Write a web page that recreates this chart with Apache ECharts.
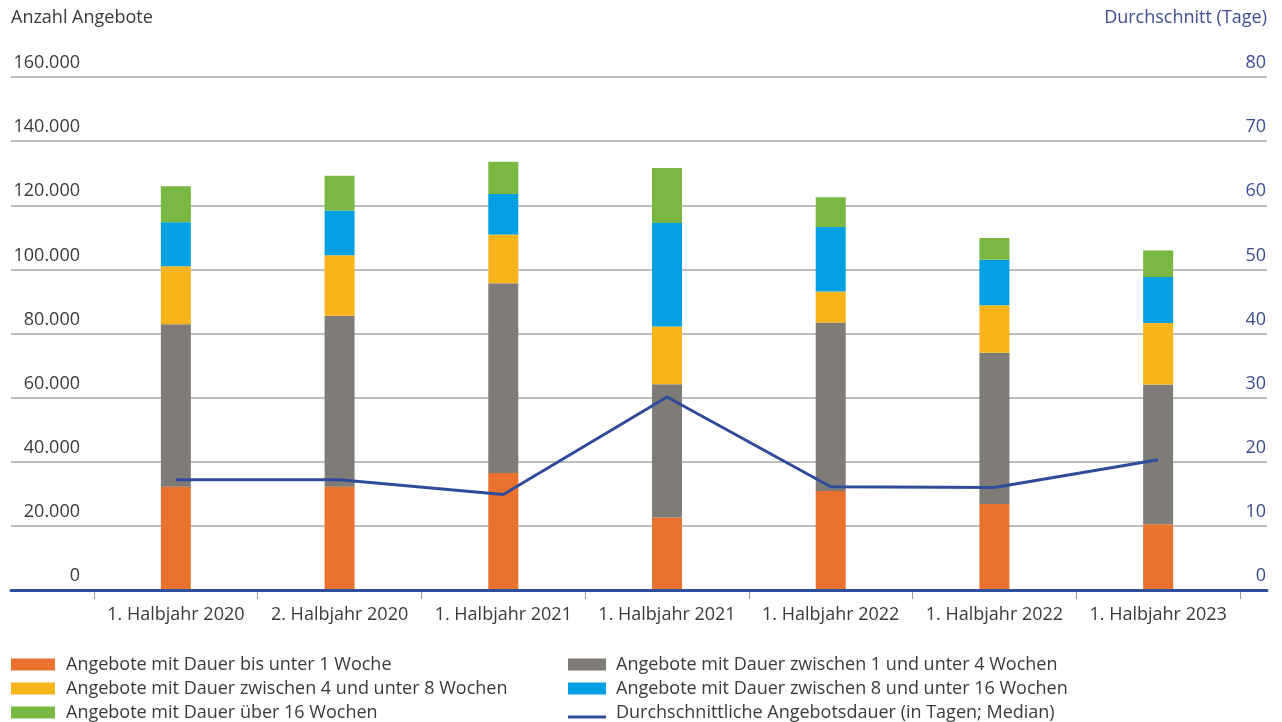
<!DOCTYPE html>
<html>
<head>
<meta charset="utf-8">
<script src="https://cdn.jsdelivr.net/npm/echarts@6/dist/echarts.min.js"></script>
<style>
  html, body { margin: 0; padding: 0; background: #ffffff; }
  #chart { width: 1282px; height: 722px; }
</style>
</head>
<body>
<div id="chart"></div>
<script>
// ---- data ----
const categories = ['1. Halbjahr 2020', '2. Halbjahr 2020', '1. Halbjahr 2021', '1. Halbjahr 2021', '1. Halbjahr 2022', '1. Halbjahr 2022', '1. Halbjahr 2023'];
const bisUnter1Woche   = [32200, 32200, 36500, 22600, 30900, 26800, 20500];
const zwischen1und4    = [50700, 53300, 59200, 41600, 52500, 47200, 43600];
const zwischen4und8    = [18100, 18900, 15200, 18000,  9700, 14800, 19200];
const zwischen8und16   = [13700, 14000, 12600, 32300, 20100, 14200, 14300];
const ueber16Wochen    = [11200, 10800, 10100, 17100,  9300,  6800,  8300];
const medianDauerTage  = [17.2, 17.2, 14.9, 30.1, 16.1, 16.0, 20.3];

const seriesNames = [
  'Angebote mit Dauer bis unter 1 Woche',
  'Angebote mit Dauer zwischen 1 und unter 4 Wochen',
  'Angebote mit Dauer zwischen 4 und unter 8 Wochen',
  'Angebote mit Dauer zwischen 8 und unter 16 Wochen',
  'Angebote mit Dauer über 16 Wochen',
  'Durchschnittliche Angebotsdauer (in Tagen; Median)'
];
const leftTicks = { min: 0, max: 160000, interval: 20000 };
const rightTicks = { min: 0, max: 80, interval: 10 };

// ---- styles ----
const FONT = 'Open Sans';
const TEXT = '#3a3a3a';
const BLUE_TEXT = '#3d4d8f';
const colors = ['#e9722f', '#7f7b77', '#f8b51b', '#00a0e3', '#78b843', '#2f4c9b'];
const GRID_TOP = 77, GRID_BOTTOM = 132;

function deFormat(v) {
  return String(v).replace(/\B(?=(\d{3})+(?!\d))/g, '.');
}

const barData = [bisUnter1Woche, zwischen1und4, zwischen4und8, zwischen8und16, ueber16Wochen];

const series = barData.map((arr, i) => ({
  name: seriesNames[i],
  type: 'bar',
  stack: 'angebote',
  xAxisIndex: 0,
  yAxisIndex: 0,
  barWidth: 30,
  itemStyle: { color: colors[i] },
  data: arr,
  z: 2
}));
series.push({
  name: seriesNames[5],
  type: 'line',
  xAxisIndex: 0,
  yAxisIndex: 1,
  symbol: 'none',
  lineStyle: { color: colors[5], width: 3 },
  itemStyle: { color: colors[5] },
  data: medianDauerTage,
  z: 4
});

const legendBase = {
  orient: 'vertical', padding: 0, top: 655.5, height: 100,
  itemHeight: 12, itemGap: 6,
  selectedMode: false
};

const option = {
  animation: false,
  backgroundColor: '#ffffff',
  textStyle: { fontFamily: FONT },
  grid: [
    { left: 94, right: 42, top: GRID_TOP, bottom: GRID_BOTTOM },
    { left: 11, right: 15, top: GRID_TOP, bottom: GRID_BOTTOM }
  ],
  xAxis: [
    {
      type: 'category',
      gridIndex: 0,
      data: categories,
      axisLine: { show: false },
      axisTick: { show: true, length: 9, lineStyle: { color: '#9a9a9a', width: 1 } },
      axisLabel: { color: TEXT, fontSize: 18, fontFamily: FONT, margin: 16, interval: 0 },
      z: 1
    },
    {
      type: 'value',
      gridIndex: 1,
      min: 0, max: 1,
      axisLine: { show: true, onZero: false, lineStyle: { color: '#2e4f9e', width: 3 } },
      axisTick: { show: false },
      axisLabel: { show: false },
      splitLine: { show: false },
      z: 6
    }
  ],
  yAxis: [
    { type: 'value', gridIndex: 0, min: leftTicks.min, max: leftTicks.max, interval: leftTicks.interval, show: false },
    { type: 'value', gridIndex: 0, min: rightTicks.min, max: rightTicks.max, interval: rightTicks.interval, show: false },
    {
      type: 'value', gridIndex: 1, position: 'left',
      min: leftTicks.min, max: leftTicks.max, interval: leftTicks.interval,
      name: 'Anzahl Angebote',
      nameLocation: 'end',
      nameGap: 59,
      nameTextStyle: { color: TEXT, fontSize: 18, fontFamily: FONT, align: 'left', verticalAlign: 'middle' },
      axisLine: { show: false },
      axisTick: { show: false },
      axisLabel: {
        color: TEXT, fontSize: 18, fontFamily: FONT,
        margin: -69, align: 'right', verticalAlign: 'bottom',
        lineHeight: 18, padding: [0, 0, 5, 0],
        formatter: deFormat
      },
      splitLine: { show: true, lineStyle: { color: '#bdbdbd', width: 2 } }
    },
    {
      type: 'value', gridIndex: 1, position: 'right',
      min: rightTicks.min, max: rightTicks.max, interval: rightTicks.interval,
      name: 'Durchschnitt (Tage)',
      nameLocation: 'end',
      nameGap: 59,
      nameTextStyle: { color: BLUE_TEXT, fontSize: 18, fontFamily: FONT, align: 'right', verticalAlign: 'middle' },
      axisLine: { show: false },
      axisTick: { show: false },
      axisLabel: {
        color: BLUE_TEXT, fontSize: 18, fontFamily: FONT,
        margin: -1, align: 'right', verticalAlign: 'bottom',
        lineHeight: 18, padding: [0, 0, 5, 0]
      },
      splitLine: { show: false }
    }
  ],
  legend: [
    Object.assign({}, legendBase, {
      left: 11, itemWidth: 44,
      textStyle: { color: TEXT, fontSize: 18, fontFamily: FONT, lineHeight: 14, padding: [0, 0, 0, 6] },
      data: [seriesNames[0], seriesNames[2], seriesNames[4]].map(n => ({ name: n, icon: 'rect' }))
    }),
    Object.assign({}, legendBase, {
      left: 568, itemWidth: 38,
      textStyle: { color: TEXT, fontSize: 18, fontFamily: FONT, lineHeight: 14, padding: [0, 0, 0, 5] },
      data: [
        { name: seriesNames[1], icon: 'rect' },
        { name: seriesNames[3], icon: 'rect' },
        { name: seriesNames[5], icon: 'path://M0,0L0.5,0L0.5,0.01L0,0.01Z M0,9L38,9L38,12L0,12Z' }
      ]
    })
  ],
  series: series
};

const chart = echarts.init(document.getElementById('chart'), null, { renderer: 'canvas' });
chart.setOption(option);
</script>
</body>
</html>
